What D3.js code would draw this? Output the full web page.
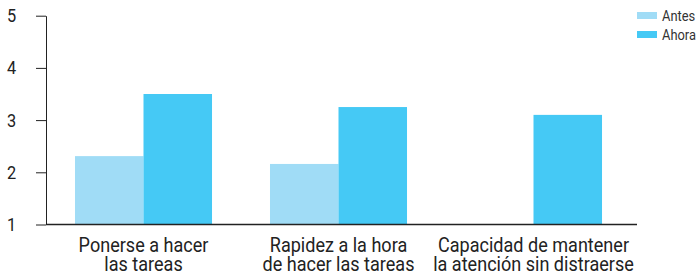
<!DOCTYPE html>
<html>
<head>
<meta charset="utf-8">
<script src="https://cdn.jsdelivr.net/npm/d3@7"></script>
<style>
  body { margin: 0; background: #fff; }
  svg { display: block; }
</style>
</head>
<body>
<div id="chart"></div>
<script>
// Data
const categories = [
    ["Ponerse a hacer", "las tareas"],
    ["Rapidez a la hora", "de hacer las tareas"],
    ["Capacidad de mantener", "la atención sin distraerse"]
];
const seriesNames = ["Antes", "Ahora"];
const antesValues = [2.31, 2.16, null];
const ahoraValues = [3.5, 3.25, 3.1];
const yTicks = [1, 2, 3, 4, 5];

const colors = { "Antes": "#a0dcf6", "Ahora": "#45c9f5" };
const fontFamily = "Roboto, 'Liberation Sans', Arial, sans-serif";
//the reference uses a condensed face, squeeze the texts horizontally
const condense = 0.86;

//Setup Dimensions
const width = 700;
const height = 277;
const axisX = 46;
const plotRight = 631;
const yTop = 15.7;
const yBottom = 224.5;

const svg = d3.select("#chart")
    .append("svg")
    .attr("width", width)
    .attr("height", height);

const rows = categories.map((c, i) => ({
    key: i,
    label: c,
    values: [
        { series: "Antes", value: antesValues[i] },
        { series: "Ahora", value: ahoraValues[i] }
    ]
}));

//Scales
const x0 = d3.scaleBand()
    .domain(rows.map(d => d.key))
    .range([axisX, plotRight])
    .padding(0);

const x1 = d3.scaleBand()
    .domain(seriesNames)
    .range([0, x0.bandwidth()])
    .paddingInner(0)
    .paddingOuter(0.423);

const y = d3.scaleLinear()
    .domain([1, 5])
    .range([yBottom, yTop]);

//Bars
const groups = svg.selectAll(".group")
    .data(rows)
    .enter().append("g")
    .attr("class", "group")
    .attr("transform", d => `translate(${x0(d.key)},0)`);

groups.selectAll("rect")
    .data(d => d.values.filter(v => v.value != null))
    .enter().append("rect")
    .attr("x", d => x1(d.series))
    .attr("width", x1.bandwidth())
    .attr("y", d => y(d.value))
    .attr("height", d => y(1) - y(d.value))
    .style("fill", d => colors[d.series]);

//Y axis
const yAxis = svg.append("g")
    .attr("transform", `translate(${axisX},0)`)
    .call(d3.axisLeft(y)
        .tickValues(yTicks)
        .tickFormat(d3.format("d"))
        .tickSize(10)
        .tickSizeOuter(0)
        .tickPadding(28));
yAxis.select(".domain").attr("stroke", "#222");
yAxis.selectAll(".tick line").attr("stroke", "#222");
yAxis.selectAll(".tick text")
    .style("font-family", fontFamily)
    .style("font-size", "19px")
    .attr("fill", "#222")
    .attr("text-anchor", "start")
    .attr("transform", `translate(-39,0) scale(${condense},1)`)
    .attr("x", 0);

//Baseline
svg.append("line")
    .attr("x1", axisX)
    .attr("x2", 637)
    .attr("y1", y(1))
    .attr("y2", y(1))
    .attr("stroke", "#222")
    .attr("stroke-width", 1.5);

//Category labels
const labels = svg.selectAll(".cat-label")
    .data(rows)
    .enter().append("g")
    .attr("class", "cat-label")
    .attr("transform", d => `translate(${x0(d.key) + x0.bandwidth() / 2},0) scale(${condense},1)`)
    .append("text")
    .attr("text-anchor", "middle")
    .style("font-family", fontFamily)
    .style("font-size", "21px")
    .attr("fill", "#222");
labels.selectAll("tspan")
    .data(d => d.label)
    .enter().append("tspan")
    .attr("x", 0)
    .attr("y", (d, i) => 252 + i * 19)
    .text(d => d);

//Legend
const legend = svg.append("g")
    .attr("transform", "translate(637,12)");
const items = legend.selectAll("g")
    .data(seriesNames)
    .enter().append("g")
    .attr("transform", (d, i) => `translate(0,${i * 19})`);
items.append("rect")
    .attr("width", 20)
    .attr("height", 7)
    .style("fill", d => colors[d]);
items.append("text")
    .attr("transform", `translate(25,8.5) scale(${condense},1)`)
    .style("font-family", fontFamily)
    .style("font-size", "15px")
    .attr("fill", "#333")
    .text(d => d);
</script>
</body>
</html>
